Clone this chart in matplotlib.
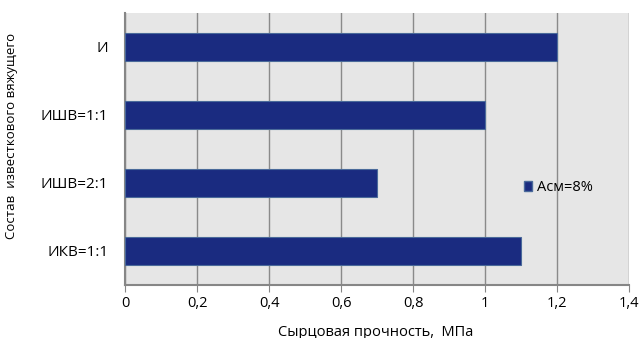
import matplotlib
matplotlib.use("Agg")
import matplotlib.pyplot as plt
from matplotlib.patches import Patch

categories = ["ИКВ=1:1", "ИШВ=2:1", "ИШВ=1:1", "И"]
values = [1.1, 0.7, 1.0, 1.2]
xticks = [0, 0.2, 0.4, 0.6, 0.8, 1.0, 1.2, 1.4]
xtick_labels = ["0", "0,2", "0,4", "0,6", "0,8", "1", "1,2", "1,4"]
series_name = "Асм=8%"

plt.rcParams["font.family"] = ["Open Sans", "DejaVu Sans"]
fs = 10.5

fig = plt.figure(figsize=(6.43, 3.38), dpi=100)
ax = fig.add_axes([125 / 643, 1 - 285 / 338, 504 / 643, 272 / 338])
ax.set_facecolor("#e6e6e6")

bar_color = "#1a2b80"
ax.barh(range(len(categories)), values, height=0.4, color=bar_color,
        edgecolor="#4a6a9a", linewidth=0.8, zorder=3)

ax.set_xlim(0, 1.4)
ax.set_ylim(-0.5, len(categories) - 0.5)
ax.set_xticks(xticks)
ax.set_xticklabels(xtick_labels, fontsize=fs)
ax.set_yticks(range(len(categories)))
ax.set_yticklabels(categories, fontsize=11)
ax.tick_params(axis="y", length=0, pad=12)
ax.tick_params(axis="x", length=5, color="#868686", pad=3, direction="out")

ax.grid(axis="x", color="#8a8a8a", linewidth=1.0, zorder=1)
for side in ["top", "right"]:
    ax.spines[side].set_visible(False)
for side in ["left", "bottom"]:
    ax.spines[side].set_color("#868686")
    ax.spines[side].set_linewidth(1.5)

ax.set_xlabel("Сырцовая прочность,  МПа", fontsize=fs)
ax.xaxis.set_label_coords((376 - 125) / 504, -(332 - 285) / 272)
ax.xaxis.label.set_va("center")
ax.set_ylabel("Состав  известкового вяжущего", fontsize=9.5)
ax.yaxis.set_label_coords(-(125 - 12) / 504, (285 - 136) / 272)
ax.yaxis.label.set_va("center")

leg = ax.legend(handles=[Patch(facecolor=bar_color, edgecolor="#4a6a9a", label=series_name)],
                loc="center left", bbox_to_anchor=(0.765, 0.357), frameon=False,
                fontsize=fs, handlelength=0.6, handleheight=0.7, handletextpad=0.3)

fig.savefig("out.png", dpi=100)
